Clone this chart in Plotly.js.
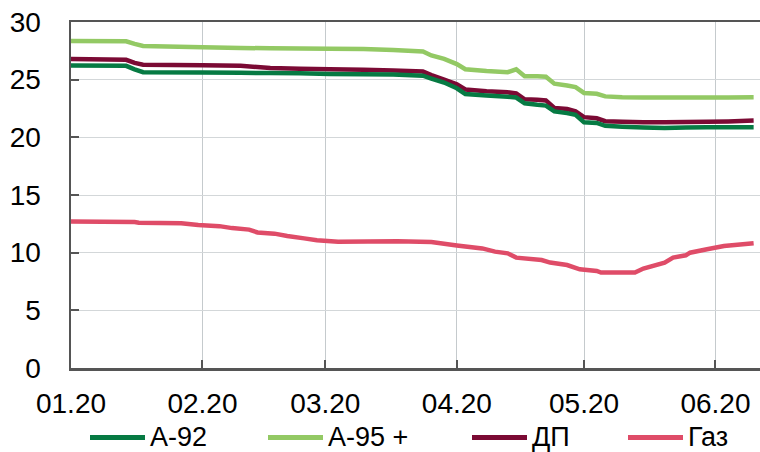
<!DOCTYPE html>
<html>
<head>
<meta charset="utf-8">
<script src="https://cdn.plot.ly/plotly-3.0.1.min.js"></script>
<style>html,body{margin:0;padding:0;background:#fff;}#chart{width:760px;height:452px;}</style>
</head>
<body>
<div id="chart"></div>
<script>
// ---- data ----
var seriesNames = ["А-92", "А-95 +", "ДП", "Газ"];

var fuelDates = ["2020-01-01","2020-01-14","2020-01-16","2020-01-18","2020-02-01","2020-02-10","2020-02-17","2020-02-24",
  "2020-03-02","2020-03-10","2020-03-17","2020-03-24","2020-03-26","2020-03-29","2020-04-01","2020-04-03",
  "2020-04-08","2020-04-13","2020-04-15","2020-04-17","2020-04-20","2020-04-22","2020-04-24","2020-04-27",
  "2020-04-29","2020-05-01","2020-05-04","2020-05-06","2020-05-10","2020-05-15","2020-05-20","2020-05-25",
  "2020-05-30","2020-06-04","2020-06-10"];

var a92 = [26.22,26.2,25.9,25.65,25.63,25.6,25.57,25.55,
  25.5,25.48,25.45,25.35,25.1,24.75,24.25,23.75,
  23.62,23.52,23.45,22.95,22.82,22.75,22.25,22.1,
  21.95,21.3,21.25,21.0,20.92,20.85,20.82,20.85,
  20.88,20.88,20.88];

var a95 = [28.36,28.33,28.1,27.92,27.8,27.75,27.72,27.7,
  27.68,27.65,27.58,27.45,27.1,26.8,26.35,25.9,
  25.75,25.65,25.9,25.3,25.3,25.25,24.65,24.5,
  24.35,23.85,23.78,23.55,23.47,23.45,23.45,23.45,
  23.45,23.45,23.47];

var dp = [26.8,26.72,26.45,26.3,26.25,26.2,26.02,25.95,
  25.9,25.85,25.8,25.7,25.4,25.0,24.6,24.15,
  24.0,23.9,23.8,23.3,23.25,23.2,22.55,22.45,
  22.25,21.75,21.65,21.4,21.35,21.3,21.3,21.32,
  21.35,21.38,21.45];

var gasDates = ["2020-01-01","2020-01-16","2020-01-17","2020-01-27","2020-01-31","2020-02-05","2020-02-08","2020-02-12",
  "2020-02-14","2020-02-18","2020-02-21","2020-02-25","2020-02-28","2020-03-04","2020-03-18","2020-03-26",
  "2020-04-01","2020-04-07","2020-04-10","2020-04-13","2020-04-15","2020-04-21","2020-04-23","2020-04-27",
  "2020-04-30","2020-05-04","2020-05-05","2020-05-13","2020-05-15","2020-05-20","2020-05-22","2020-05-25",
  "2020-05-26","2020-05-30","2020-06-03","2020-06-10"];

var gas = [12.7,12.65,12.6,12.56,12.39,12.3,12.13,12.0,
  11.75,11.65,11.44,11.24,11.07,10.95,10.98,10.93,
  10.63,10.37,10.09,9.94,9.57,9.36,9.14,8.93,
  8.56,8.41,8.27,8.27,8.62,9.14,9.57,9.77,
  10.0,10.29,10.57,10.82];

var yTicks = [0, 5, 10, 15, 20, 25, 30];
var xTicks = ["2020-01-01","2020-02-01","2020-03-01","2020-04-01","2020-05-01","2020-06-01"];
var xTickText = ["01.20","02.20","03.20","04.20","05.20","06.20"];

// ---- styles ----
var colors = ["#067a43", "#93c964", "#7b0a34", "#df4c68"];
var FONT = "Liberation Sans, Arial, sans-serif";
var FS = 28;
var W = 760, H = 452, ML = 71, MR = 0, MT = 22, MB = 84;
var PW = W - ML - MR, PH = H - MT - MB;

function tr(x, y, i) {
  return {x: x, y: y, name: seriesNames[i], type: "scatter", mode: "lines",
    line: {color: colors[i], width: 4.5, simplify: false}, hoverinfo: "skip", showlegend: false};
}
var data = [tr(gasDates, gas, 3), tr(fuelDates, a95, 1), tr(fuelDates, dp, 2), tr(fuelDates, a92, 0)];

// legend drawn in paper coordinates (line key + label)
var legLineStart = [90, 268, 472, 628];
var legLineLen = 55;
var legY = 437.5;
function px2x(p) { return (p - ML) / PW; }
function px2y(p) { return (H - MB - p) / PH; }
var shapes = [], annotations = [];
for (var i = 0; i < seriesNames.length; i++) {
  shapes.push({type: "line", xref: "paper", yref: "paper",
    x0: px2x(legLineStart[i]), x1: px2x(legLineStart[i] + legLineLen),
    y0: px2y(legY), y1: px2y(legY), line: {color: colors[i], width: 5}});
  annotations.push({xref: "paper", yref: "paper", x: px2x(legLineStart[i] + legLineLen + 4), y: px2y(436.5),
    xanchor: "left", yanchor: "middle", showarrow: false, borderpad: 0,
    text: seriesNames[i], font: {family: FONT, size: 27, color: "#000"}});
}

var layout = {
  width: W, height: H,
  margin: {l: ML, r: MR, t: MT, b: MB, autoexpand: false},
  paper_bgcolor: "#fff", plot_bgcolor: "#fff",
  font: {family: FONT, size: FS, color: "#000"},
  showlegend: false,
  shapes: shapes,
  annotations: annotations,
  xaxis: {
    type: "date",
    range: ["2020-01-01", "2020-06-11 12:00"],
    tickmode: "array", tickvals: xTicks, ticktext: xTickText,
    ticks: "inside", ticklen: 8, tickwidth: 2, tickcolor: "#555",
    showline: true, linecolor: "#555", linewidth: 2.5, mirror: true,
    showgrid: true, gridcolor: "#c5cacd", gridwidth: 1,
    zeroline: false, ticklabelstandoff: 9,
    tickfont: {family: FONT, size: FS, color: "#000"}
  },
  yaxis: {
    range: [0, 30], tickmode: "array", tickvals: yTicks,
    ticks: "inside", ticklen: 8, tickwidth: 2, tickcolor: "#555",
    showline: true, linecolor: "#555", linewidth: 2.5,
    showgrid: true, gridcolor: "#d3d7d9", gridwidth: 1,
    zeroline: false, ticklabelstandoff: 22,
    tickfont: {family: FONT, size: FS, color: "#000"}
  }
};

Plotly.newPlot("chart", data, layout, {staticPlot: true, displayModeBar: false});
</script>
</body>
</html>
